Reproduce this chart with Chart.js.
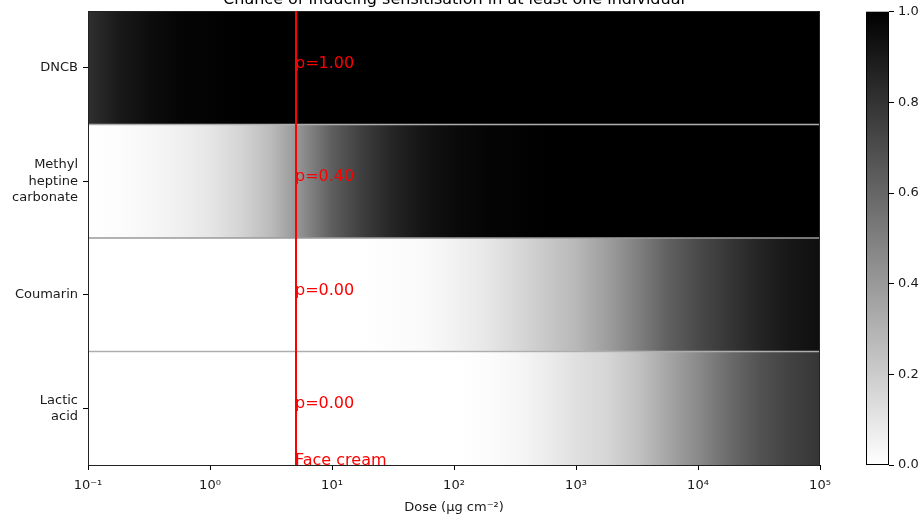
<!DOCTYPE html>
<html>
<head>
<meta charset="utf-8">
<script src="https://cdn.jsdelivr.net/npm/chart.js@4/dist/chart.umd.min.js"></script>
<style>
  html, body { margin: 0; padding: 0; background: #ffffff; }
  #wrap { position: relative; width: 923px; height: 519px; overflow: hidden; }
  canvas { position: absolute; top: 0; }
  #main { left: 0; }
  #cbar { left: 840px; }
</style>
</head>
<body>
<div id="wrap">
  <canvas id="main" width="923" height="519"></canvas>
  <canvas id="cbar" width="83" height="519"></canvas>
</div>
<script>
// Substances (top to bottom)
const substances = [['DNCB'], ['Methyl', 'heptine', 'carbonate'], ['Coumarin'], ['Lactic', 'acid']];

// Dose grid (µg cm⁻²) at which the probability is sampled
const doses = [0.1, 0.18, 0.32, 0.56, 1, 1.8, 3.2, 5, 10, 18, 32, 56, 100, 180, 320, 560,
               1000, 1800, 3200, 5600, 10000, 18000, 32000, 56000, 100000];

// Probability of sensitising at least one individual, per substance, at each dose
const pDNCB     = [0.81, 0.90, 0.95, 0.98, 0.99, 1.00, 1.00, 1.00, 1.00, 1.00, 1.00, 1.00, 1.00,
                   1.00, 1.00, 1.00, 1.00, 1.00, 1.00, 1.00, 1.00, 1.00, 1.00, 1.00, 1.00];
const pMethyl   = [0.00, 0.01, 0.03, 0.06, 0.10, 0.17, 0.27, 0.40, 0.63, 0.76, 0.86, 0.92, 0.96,
                   0.98, 0.99, 1.00, 1.00, 1.00, 1.00, 1.00, 1.00, 1.00, 1.00, 1.00, 1.00];
const pCoumarin = [0.00, 0.00, 0.00, 0.00, 0.00, 0.00, 0.00, 0.00, 0.00, 0.00, 0.01, 0.02, 0.05,
                   0.09, 0.15, 0.21, 0.28, 0.38, 0.50, 0.62, 0.71, 0.79, 0.86, 0.91, 0.94];
const pLactic   = [0.00, 0.00, 0.00, 0.00, 0.00, 0.00, 0.00, 0.00, 0.00, 0.00, 0.00, 0.00, 0.00,
                   0.01, 0.03, 0.07, 0.12, 0.16, 0.24, 0.35, 0.46, 0.58, 0.68, 0.74, 0.79];
const rows = [pDNCB, pMethyl, pCoumarin, pLactic];

// Reference exposure
const faceCreamDose = 5;
const faceCreamLabel = 'Face cream';

// Axis ticks
const xTicks = [0.1, 1, 10, 100, 1000, 10000, 100000];
const xTickLabels = ['10⁻¹', '10⁰', '10¹', '10²', '10³', '10⁴', '10⁵'];
const cbarTicks = [0, 0.2, 0.4, 0.6, 0.8, 1.0];

const FONT = 'DejaVu Sans';
const TEXT = '#1a1a1a';

// reversed grey colour map: 0 -> white, 1 -> black
function grey(p) {
  const v = Math.round(255 * (1 - p));
  return `rgb(${v},${v},${v})`;
}

function rowGradient(chart, values) {
  const xs = chart.scales.x;
  const ctx = chart.ctx;
  const x0 = xs.getPixelForValue(doses[0]);
  const x1 = xs.getPixelForValue(doses[doses.length - 1]);
  const g = ctx.createLinearGradient(x0, 0, x1, 0);
  doses.forEach((d, i) => {
    const off = (xs.getPixelForValue(d) - x0) / (x1 - x0);
    g.addColorStop(Math.min(1, Math.max(0, off)), grey(values[i]));
  });
  return g;
}

const overlay = {
  id: 'overlay',
  afterDatasetsDraw(chart) {
    const { ctx, chartArea: a, scales } = chart;
    ctx.save();
    // frame
    ctx.strokeStyle = '#222222';
    ctx.lineWidth = 1;
    ctx.strokeRect(a.left + 0.5, a.top + 0.5, a.right - a.left - 1, a.bottom - a.top);
    // face cream marker
    const xf = Math.round(scales.x.getPixelForValue(faceCreamDose));
    ctx.fillStyle = '#ff0000';
    ctx.fillRect(xf, a.top, 2, a.bottom - a.top);
    ctx.font = `16px "${FONT}"`;
    ctx.textAlign = 'left';
    ctx.textBaseline = 'alphabetic';
    const k = doses.indexOf(faceCreamDose);
    rows.forEach((vals, i) => {
      const y = scales.y.getPixelForValue(i);
      ctx.fillText('p=' + vals[k].toFixed(2), xf, y);
    });
    ctx.fillText(faceCreamLabel, xf, a.bottom);
    // title
    ctx.fillStyle = '#000000';
    ctx.textAlign = 'center';
    ctx.fillText('Chance of inducing sensitisation in at least one individual', (a.left + a.right) / 2, 4);
    ctx.restore();
  }
};

new Chart(document.getElementById('main'), {
  type: 'bar',
  data: {
    labels: substances,
    datasets: [{
      data: rows.map(() => [doses[0], doses[doses.length - 1]]),
      backgroundColor: (c) => c.chart.chartArea ? rowGradient(c.chart, rows[c.dataIndex]) : '#888',
      borderColor: '#9a9a9a',
      borderWidth: (c) => ({ top: c.dataIndex === 0 ? 0 : 1, bottom: c.dataIndex === rows.length - 1 ? 0 : 1, left: 0, right: 0 }),
      borderSkipped: false,
      barPercentage: 1,
      categoryPercentage: 1
    }]
  },
  options: {
    indexAxis: 'y',
    responsive: false,
    animation: false,
    devicePixelRatio: 1,
    layout: { padding: { left: 0, top: 11, right: 103, bottom: 0 } },
    plugins: { legend: { display: false }, tooltip: { enabled: false }, title: { display: false } },
    scales: {
      x: {
        type: 'logarithmic',
        min: xTicks[0],
        max: xTicks[xTicks.length - 1],
        afterBuildTicks: (s) => { s.ticks = xTicks.map(v => ({ value: v })); },
        afterFit: (s) => { s.height = 54; s.paddingLeft = 0; s.paddingRight = 0; },
        border: { display: false },
        grid: { drawOnChartArea: false, drawTicks: true, tickLength: 5, tickColor: '#000' },
        ticks: {
          autoSkip: false, maxRotation: 0, padding: 8,
          color: TEXT, font: { family: FONT, size: 13 },
          callback: (v, i) => xTickLabels[i]
        },
        title: {
          display: true, text: 'Dose (μg cm⁻²)', color: TEXT,
          font: { family: FONT, size: 13 }, padding: { top: 0, bottom: 4 }
        }
      },
      y: {
        type: 'category',
        afterFit: (s) => { s.width = 88; s.paddingTop = 0; s.paddingBottom = 0; },
        border: { display: false },
        grid: { offset: false, drawOnChartArea: false, drawTicks: true, tickLength: 5, tickColor: '#000' },
        ticks: { padding: 5, color: TEXT, font: { family: FONT, size: 13, lineHeight: 1.25 } }
      }
    }
  },
  plugins: [overlay]
});

// colour bar
const cbarFrame = {
  id: 'cbarFrame',
  afterDatasetsDraw(chart) {
    const { ctx, chartArea: a } = chart;
    ctx.save();
    ctx.strokeStyle = '#000';
    ctx.lineWidth = 1;
    ctx.strokeRect(a.left + 0.5, a.top + 0.5, a.right - a.left - 1, a.bottom - a.top - 1);
    ctx.restore();
  }
};

new Chart(document.getElementById('cbar'), {
  type: 'bar',
  data: {
    labels: [''],
    datasets: [{
      data: [[cbarTicks[0], cbarTicks[cbarTicks.length - 1]]],
      backgroundColor: (c) => {
        const ch = c.chart;
        if (!ch.chartArea) return '#888';
        const ys = ch.scales.y;
        const g = ch.ctx.createLinearGradient(0, ys.getPixelForValue(0), 0, ys.getPixelForValue(1));
        g.addColorStop(0, grey(0));
        g.addColorStop(1, grey(1));
        return g;
      },
      borderWidth: 0,
      barPercentage: 1,
      categoryPercentage: 1
    }]
  },
  options: {
    responsive: false,
    animation: false,
    devicePixelRatio: 1,
    layout: { padding: { left: 26, top: 11, right: 0, bottom: 54 } },
    plugins: { legend: { display: false }, tooltip: { enabled: false } },
    scales: {
      x: { display: false },
      y: {
        position: 'right',
        min: 0, max: 1,
        afterBuildTicks: (s) => { s.ticks = cbarTicks.map(v => ({ value: v })); },
        afterFit: (s) => { s.width = 34; },
        border: { display: false },
        grid: { drawOnChartArea: false, drawTicks: true, tickLength: 5, tickColor: '#000' },
        ticks: { padding: 4, color: TEXT, font: { family: FONT, size: 13 }, callback: (v) => v.toFixed(1) }
      }
    }
  },
  plugins: [cbarFrame]
});
</script>
</body>
</html>
